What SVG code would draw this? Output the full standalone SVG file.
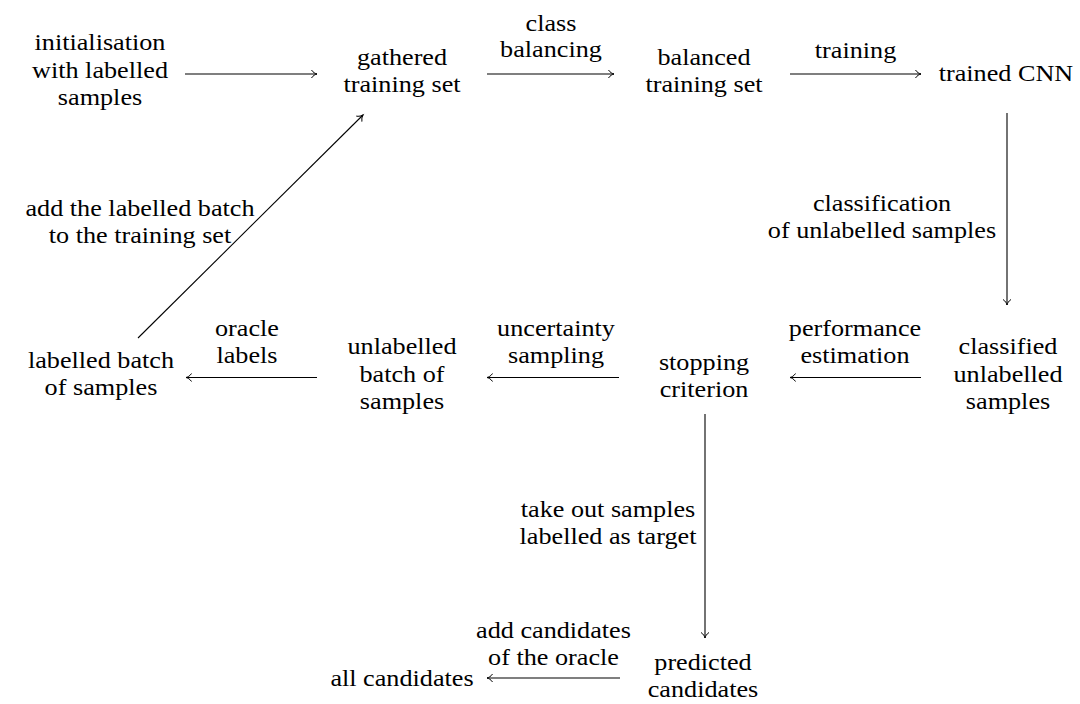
<svg xmlns="http://www.w3.org/2000/svg" width="1080" height="704" viewBox="0 0 1080 704">
<style>
text{font-family:"Liberation Serif","Times New Roman",serif;font-size:23.5px;fill:#000;text-anchor:middle}
.c{stroke:#000;stroke-width:1.1;fill:none;marker-end:url(#to)}
</style>
<defs>
<marker id="to" markerUnits="userSpaceOnUse" markerWidth="12" markerHeight="12" refX="0" refY="0" viewBox="-7 -6 8 12" orient="auto" overflow="visible">
<path d="M-5.5,-4 C-4,-1.5 -1.5,-0.4 0,0 C-1.5,0.4 -4,1.5 -5.5,4" stroke="#000" stroke-width="1" fill="none"/>
</marker>
</defs>
<rect width="1080" height="704" fill="#fff"/>
<g id="connectors">
<path class="c" d="M185,74 H317"/>
<path class="c" d="M487,74 H614"/>
<path class="c" d="M790,74 H921"/>
<path class="c" d="M1007,113 V305"/>
<path class="c" d="M921,377.5 H790"/>
<path class="c" d="M619,377.5 H487"/>
<path class="c" d="M317,377.5 H186"/>
<path class="c" d="M138,338 L363,115"/>
<path class="c" d="M705,414 V638"/>
<path class="c" d="M620,678 H487"/>
</g>
<g id="edge-labels">
<g transform="translate(551 0) scale(1.115 1)"><text><tspan x="0" y="31">class</tspan><tspan x="0" y="57.5">balancing</tspan></text></g>
<g transform="translate(855.5 0) scale(1.115 1)"><text x="0" y="58">training</text></g>
<g transform="translate(882 0) scale(1.115 1)"><text><tspan x="0" y="211">classification</tspan><tspan x="0" y="238">of unlabelled samples</tspan></text></g>
<g transform="translate(855 0) scale(1.115 1)"><text><tspan x="0" y="336">performance</tspan><tspan x="0" y="363">estimation</tspan></text></g>
<g transform="translate(556 0) scale(1.115 1)"><text><tspan x="0" y="336">uncertainty</tspan><tspan x="0" y="363">sampling</tspan></text></g>
<g transform="translate(247 0) scale(1.115 1)"><text><tspan x="0" y="336">oracle</tspan><tspan x="0" y="363">labels</tspan></text></g>
<g transform="translate(140 0) scale(1.115 1)"><text><tspan x="0" y="216">add the labelled batch</tspan><tspan x="0" y="243">to the training set</tspan></text></g>
<g transform="translate(608 0) scale(1.115 1)"><text><tspan x="0" y="517">take out samples</tspan><tspan x="0" y="544">labelled as target</tspan></text></g>
<g transform="translate(553.5 0) scale(1.115 1)"><text><tspan x="0" y="638">add candidates</tspan><tspan x="0" y="665">of the oracle</tspan></text></g>
</g>
<g id="n-init" transform="translate(100 0) scale(1.115 1)"><text><tspan x="0" y="50.5">initialisation</tspan><tspan x="0" y="78">with labelled</tspan><tspan x="0" y="105.5">samples</tspan></text></g>
<g id="n-gathered" transform="translate(402 0) scale(1.115 1)"><text><tspan x="0" y="65.5">gathered</tspan><tspan x="0" y="92.5">training set</tspan></text></g>
<g id="n-balanced" transform="translate(704 0) scale(1.115 1)"><text><tspan x="0" y="65.5">balanced</tspan><tspan x="0" y="92.5">training set</tspan></text></g>
<g id="n-cnn" transform="translate(1006 0) scale(1.115 1)"><text x="0" y="81.5">trained CNN</text></g>
<g id="n-classified" transform="translate(1008 0) scale(1.115 1)"><text><tspan x="0" y="354.5">classified</tspan><tspan x="0" y="382">unlabelled</tspan><tspan x="0" y="409.5">samples</tspan></text></g>
<g id="n-stopping" transform="translate(704 0) scale(1.115 1)"><text><tspan x="0" y="370">stopping</tspan><tspan x="0" y="397">criterion</tspan></text></g>
<g id="n-unlabelled" transform="translate(402 0) scale(1.115 1)"><text><tspan x="0" y="354.5">unlabelled</tspan><tspan x="0" y="382">batch of</tspan><tspan x="0" y="409.5">samples</tspan></text></g>
<g id="n-labelled" transform="translate(101 0) scale(1.115 1)"><text><tspan x="0" y="368">labelled batch</tspan><tspan x="0" y="395">of samples</tspan></text></g>
<g id="n-predicted" transform="translate(703 0) scale(1.115 1)"><text><tspan x="0" y="670">predicted</tspan><tspan x="0" y="697">candidates</tspan></text></g>
<g id="n-all" transform="translate(402 0) scale(1.115 1)"><text x="0" y="686">all candidates</text></g>
</svg>
